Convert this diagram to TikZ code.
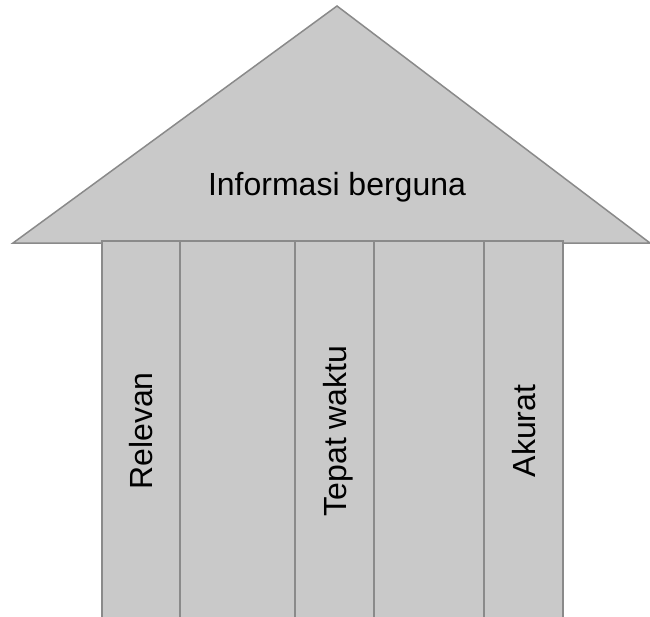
\documentclass[tikz,border=0pt]{standalone}
\usepackage{fontspec}
\setmainfont{Liberation Sans}
\usepackage{tikz}
\usetikzlibrary{shapes,arrows}
\definecolor{pillarfill}{RGB}{201,201,201}
\definecolor{pillarline}{RGB}{138,138,138}
\tikzstyle{roof} = [draw=pillarline, fill=pillarfill, line width=1.5pt, line join=miter]
\tikzstyle{pillar} = [rectangle, draw=pillarline, fill=pillarfill, line width=1.5pt,
rotate=90, minimum width=380pt, inner sep=0pt, text height=23pt, text depth=0pt,
font=\fontsize{32}{38}\selectfont]
\tikzstyle{caption} = [inner sep=0pt, text height=23pt, text depth=0pt,
font=\fontsize{32}{38}\selectfont]

\begin{document}
\begin{tikzpicture}[x=1pt, y=-1pt]
\useasboundingbox (0,0) rectangle (650,616);
% Draw roof
\coordinate (apex) at (337,6);
\coordinate (eaveleft) at (13,243);
\coordinate (eaveright) at (650,243);
\draw [roof] (eaveleft) -- (apex) -- (eaveright) -- cycle;
\node [caption] (title) at (337,183.5) {Informasi berguna};
% Place pillars
\node [pillar, minimum height=78pt] (relevan) at (141,431) {Relevan};
\node [pillar, minimum height=115pt] (gap1) at (237.5,431) {};
\node [pillar, minimum height=79pt] (tepat) at (334.5,431) {Tepat waktu};
\node [pillar, minimum height=110pt] (gap2) at (429,431) {};
\node [pillar, minimum height=79pt] (akurat) at (523.5,431) {Akurat};
\end{tikzpicture}
\end{document}
